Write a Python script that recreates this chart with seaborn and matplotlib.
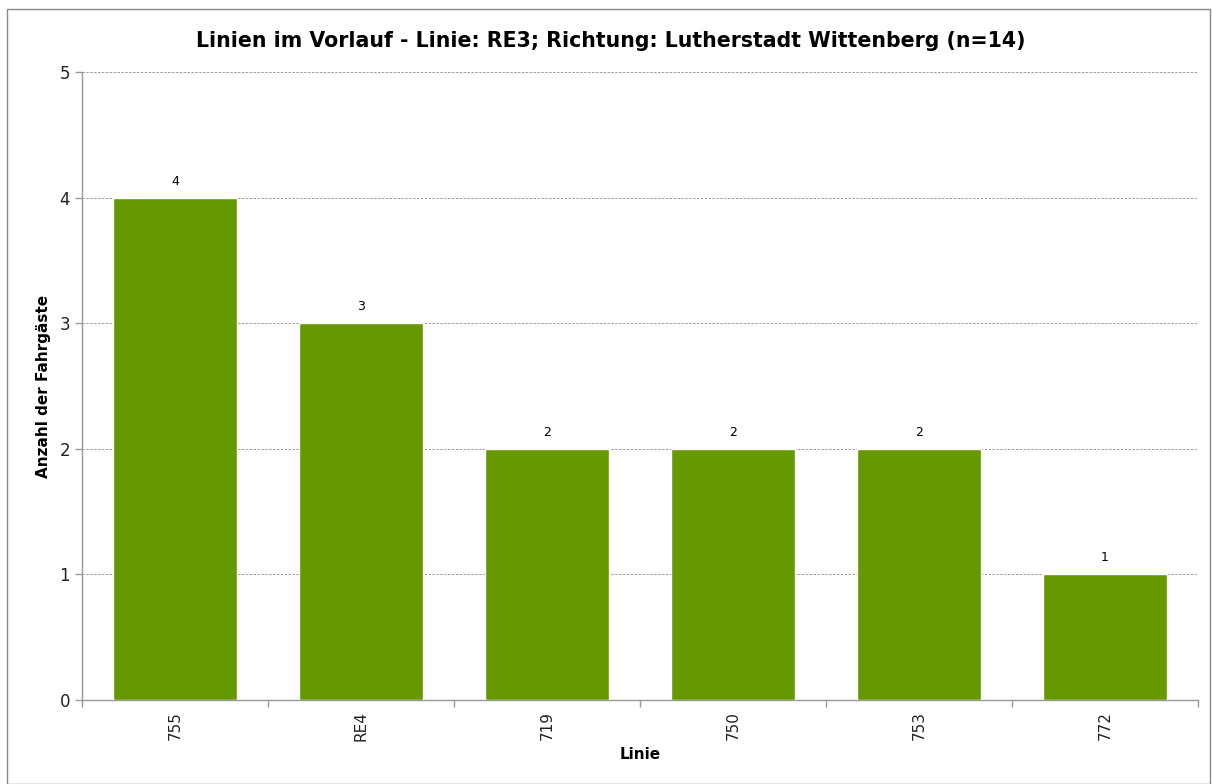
import pandas as pd
import matplotlib.pyplot as plt
import seaborn as sns
from matplotlib.patches import Rectangle

sns.set_theme(style="white")
plt.rcParams['font.family'] = ['DejaVu Sans']
plt.rcParams['text.color'] = 'black'
plt.rcParams['axes.labelcolor'] = 'black'
plt.rcParams['xtick.color'] = '#222222'
plt.rcParams['ytick.color'] = '#222222'

# data
linien = ["755", "RE4", "719", "750", "753", "772"]
anzahl = [4, 3, 2, 2, 2, 1]

df = pd.DataFrame({"Linie": linien, "Anzahl": anzahl})

fig = plt.figure(figsize=(12.12, 7.84), dpi=100)
ax = fig.add_axes([82 / 1212, 1 - 700 / 784, 1116 / 1212, 628 / 784])

sns.barplot(data=df, x="Linie", y="Anzahl", color="#669900", saturation=1,
            width=0.667, ax=ax, zorder=3)

for p, v in zip(ax.patches, anzahl):
    ax.text(p.get_x() + p.get_width() / 2, v + 0.08, str(v),
            ha="center", va="bottom", fontsize=9, color="black")

ax.set_xlim(-0.5, len(linien) - 0.5)
ax.set_ylim(0, 5)
ax.set_yticks(range(0, 6))
ax.yaxis.grid(True, linestyle=(0, (2.5, 1.5)), color="#999999", linewidth=0.7, zorder=0)

# tick marks between categories
ax.set_xticks(range(len(linien)))
ax.set_xticklabels(linien, rotation=90, fontsize=11)
ax.set_xticks([i - 0.5 for i in range(len(linien) + 1)], minor=True)
ax.tick_params(axis="x", which="major", length=0, pad=8)
ax.tick_params(axis="x", which="minor", length=5, color="#999999", width=1, bottom=True)
ax.tick_params(axis="y", length=5, color="#999999", width=1, left=True, labelsize=12)

for side in ["top", "right"]:
    ax.spines[side].set_visible(False)
for side in ["left", "bottom"]:
    ax.spines[side].set_color("#999999")
    ax.spines[side].set_linewidth(1)

ax.set_xlabel("Linie", fontsize=11, fontweight="bold", labelpad=4)
ax.set_ylabel("Anzahl der Fahrgäste", fontsize=11, fontweight="bold", labelpad=6)
ax.set_title("Linien im Vorlauf - Linie: RE3; Richtung: Lutherstadt Wittenberg (n=14)",
             fontsize=14.8, fontweight="bold", pad=18, x=0.474)

# outer chart frame
fig.patches.append(Rectangle((7 / 1212, 0), 1 - 9 / 1212, 1 - 9 / 784,
                             transform=fig.transFigure, fill=False,
                             edgecolor="#888888", linewidth=1))

fig.savefig("out.png", dpi=100)
